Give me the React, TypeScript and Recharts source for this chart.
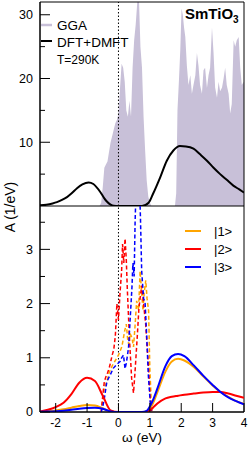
import React from "react";
import { ComposedChart, Line, Area, XAxis, YAxis, ReferenceLine, ReferenceArea } from "recharts";

// top panel: GGA total DOS (filled) and DFT+DMFT spectral function
const ggaW = [-2.5, -0.6, -0.55, -0.5, -0.45, -0.4, -0.35, -0.3, -0.25, -0.2, -0.15, -0.1, -0.05, 0, 0.05, 0.1, 0.15, 0.2, 0.25, 0.3, 0.35, 0.4, 0.45, 0.5, 0.55, 0.6, 0.65, 0.7, 0.75, 0.8, 0.85, 0.9, 0.95, 1.0, 1.05,
  1.8, 1.84, 1.88, 1.93, 1.97, 2.01, 2.05, 2.09, 2.13, 2.18, 2.23, 2.29, 2.34, 2.39, 2.45, 2.5, 2.55, 2.6, 2.66, 2.71, 2.76, 2.82, 2.87, 2.92, 2.98, 3.03, 3.08, 3.14, 3.19, 3.24, 3.3, 3.35, 3.4, 3.45, 3.51, 3.56, 3.61, 3.67, 3.72, 3.77, 3.83, 3.88, 3.93, 3.99, 4.0];
const ggaA = [0, 0, 0.5, 3, 6, 6.5, 7, 8.5, 10, 11, 12, 13, 13.5, 14.5, 18.5, 22.3, 21.7, 19.5, 15, 14, 16.5, 14, 21.7, 26, 28.5, 32, 33, 25, 21.7, 14, 8.7, 4, 1.5, 0.5, 0,
  0, 2, 15, 20, 24.5, 31, 30, 28, 26.5, 22, 19, 20.5, 17.6, 19, 20.5, 24, 22, 19, 17.6, 21.3, 21.7, 18.5, 20.5, 21.7, 28, 24, 18.6, 17, 19.5, 18, 18.6, 20, 21.7, 19, 17.6, 14.5, 16, 26, 25, 26, 26.5, 21.7, 19, 19.5, 19];

const dmftW = [-2.5, -2.3, -2.1, -1.96, -1.8, -1.64, -1.5, -1.32, -1.15, -0.95, -0.8, -0.58, -0.45, -0.37, -0.25, -0.15, 0, 0.4, 0.75, 0.96, 1.11, 1.33, 1.54, 1.75, 1.96, 2.15, 2.39, 2.6, 2.82, 3.03, 3.24, 3.45, 3.66, 3.85, 4.0];
const dmftA = [0.1, 0.2, 0.4, 0.6, 0.95, 1.4, 1.95, 2.8, 3.4, 3.7, 3.45, 2.2, 1.2, 0.7, 0.2, 0.03, 0, 0, 0, 0.5, 2, 4.5, 7.1, 8.7, 9.4, 9.35, 9.0, 8.1, 7.1, 6.0, 5.0, 4.1, 3.2, 2.6, 2.1];

// bottom panel: DFT+DMFT orbital-resolved spectra (solid)
const orbW = [-2.5, -2.25, -2, -1.75, -1.5, -1.25, -1, -0.75, -0.5, -0.25, 0, 0.25, 0.5, 0.75, 0.9, 1, 1.1, 1.25, 1.5, 1.7, 1.9, 2.1, 2.4, 2.7, 3, 3.25, 3.5, 3.75, 4];
const orb1 = [0.005, 0.015, 0.03, 0.05, 0.08, 0.11, 0.13, 0.12, 0.07, 0.01, 0, 0, 0, 0, 0.01, 0.06, 0.16, 0.38, 0.75, 0.93, 0.98, 0.95, 0.83, 0.66, 0.49, 0.37, 0.28, 0.2, 0.15];
const orb2 = [0.01, 0.04, 0.09, 0.17, 0.33, 0.54, 0.63, 0.57, 0.3, 0.03, 0, 0, 0, 0, 0.005, 0.03, 0.08, 0.16, 0.25, 0.28, 0.3, 0.32, 0.34, 0.36, 0.37, 0.37, 0.34, 0.3, 0.26];
const orb3 = [0.003, 0.008, 0.015, 0.025, 0.04, 0.06, 0.075, 0.08, 0.06, 0.01, 0, 0, 0, 0, 0.02, 0.1, 0.22, 0.45, 0.85, 1.03, 1.07, 1.03, 0.86, 0.67, 0.5, 0.37, 0.27, 0.2, 0.14];

// bottom panel: GGA orbital-resolved DOS (dashed)
const gga1W = [-0.55, -0.5, -0.45, -0.37, -0.3, -0.2, -0.1, -0.05, 0, 0.05, 0.11, 0.16, 0.2, 0.25, 0.3, 0.33, 0.37, 0.43, 0.48, 0.53, 0.58, 0.64, 0.69, 0.74, 0.78, 0.82, 0.87, 0.91, 0.96, 1.0, 1.06];
const gga1 = [0, 0.25, 0.45, 0.56, 0.72, 0.85, 0.95, 1.0, 1.05, 1.12, 1.21, 1.37, 1.5, 1.62, 1.3, 1.25, 1.45, 1.37, 1.2, 1.6, 2.05, 1.88, 2.6, 2.2, 1.87, 2.2, 2.43, 2.1, 1.87, 0.8, 0];
const gga2W = [-0.55, -0.5, -0.45, -0.4, -0.35, -0.3, -0.25, -0.2, -0.15, -0.1, -0.05, 0, 0.05, 0.1, 0.13, 0.17, 0.21, 0.25, 0.28, 0.35, 0.42, 0.48, 0.53, 0.6, 0.65, 0.69, 0.74, 0.8, 0.87, 0.96, 1.01, 1.06];
const gga2 = [0, 0.3, 0.56, 0.65, 0.72, 0.8, 0.92, 1.05, 1.15, 1.4, 2.0, 1.7, 2.2, 2.6, 3.1, 2.75, 3.2, 2.8, 2.3, 1.35, 0.62, 0.35, 0.76, 1.4, 1.9, 2.1, 2.33, 2.0, 1.6, 0.8, 0.25, 0];
const gga3W = [-0.55, -0.5, -0.45, -0.37, -0.25, -0.16, -0.05, 0.05, 0.1, 0.16, 0.21, 0.25, 0.32, 0.37, 0.43, 0.46, 0.5, 0.53, 0.57, 0.62, 0.66, 0.7, 0.74, 0.8, 0.85, 0.9, 0.95, 1.01, 1.06];
const gga3 = [0, 0.1, 0.25, 0.56, 0.7, 0.81, 0.88, 0.93, 1.0, 1.05, 0.8, 0.9, 1.18, 1.68, 2.3, 2.75, 2.5, 3.5, 4.3, 4.0, 4.4, 3.6, 2.6, 2.1, 2.0, 1.4, 0.7, 0.19, 0];

const xTicks = [-2, -1.5, -1, -0.5, 0, 0.5, 1, 1.5, 2, 2.5, 3, 3.5, 4];
const topTicks = [0, 5, 10, 15, 20, 25, 30];
const botTicks = [0, 0.5, 1, 1.5, 2, 2.5, 3, 3.5];

const FONT = "Liberation Sans, Arial, Helvetica, sans-serif";
const LAV = "#c8c0d8";
const C1 = "#ffa500";
const C2 = "#ff0000";
const C3 = "#0000ff";

const zip = (xs: number[], ys: number[]) => xs.map((x, i) => ({ x, y: ys[i] }));

function XTickMark(props: any) {
  const { x, y, payload, labels } = props;
  const major = Number.isInteger(payload.value);
  return (
    <g>
      <line x1={x} x2={x} y1={y} y2={y - (major ? 9 : 5)} stroke="#000" />
      {labels && major && (
        <text x={x} y={y + 15} textAnchor="middle" fontSize={12} fontFamily={FONT} fill="#000">
          {payload.value}
        </text>
      )}
    </g>
  );
}

function YTickMark(props: any) {
  const { x, y, payload, step } = props;
  const major = Math.abs(payload.value / step - Math.round(payload.value / step)) < 1e-6;
  return (
    <g>
      <line x1={x} x2={x + (major ? 10 : 5)} y1={y} y2={y} stroke="#000" />
      {major && (
        <text x={x - 7} y={y} dy="0.35em" textAnchor="end" fontSize={12.5} fontFamily={FONT} fill="#000">
          {payload.value}
        </text>
      )}
    </g>
  );
}

export default function App() {
  return (
    <div style={{ position: "absolute", left: 0, top: 0, width: 250, height: 450, background: "#fff" }}>
      <div style={{ position: "absolute", left: 0, top: 0 }}>
        <ComposedChart width={250} height={206} margin={{ top: 2, right: 6, left: 0, bottom: 0 }}>
          <XAxis type="number" dataKey="x" domain={[-2.5, 4]} allowDataOverflow ticks={xTicks} height={0}
            tickSize={0} tickMargin={0} tickLine={false} axisLine={{ stroke: "#000" }}
            tick={(p: any) => <XTickMark {...p} labels={false} />} />
          <YAxis type="number" domain={[0, 32]} allowDataOverflow ticks={topTicks} width={40}
            tickSize={0} tickMargin={0} tickLine={false} axisLine={{ stroke: "#000" }}
            tick={(p: any) => <YTickMark {...p} step={10} />} />
          <Area data={zip(ggaW, ggaA)} dataKey="y" type="linear" fill={LAV} fillOpacity={1} stroke="none" isAnimationActive={false} />
          <Line data={zip(dmftW, dmftA)} dataKey="y" type="monotone" stroke="#000" strokeWidth={2} dot={false} isAnimationActive={false} />
          <ReferenceLine x={0} stroke="#000" strokeDasharray="1.5 2" />
          <ReferenceArea x1={-2.5} x2={4} y1={0} y2={32} fill="none" stroke="#000" strokeWidth={1} />
        </ComposedChart>
      </div>
      <div style={{ position: "absolute", left: 0, top: 206 }}>
        <ComposedChart width={250} height={244} margin={{ top: 0, right: 6, left: 0, bottom: 0 }}>
          <XAxis type="number" dataKey="x" domain={[-2.5, 4]} allowDataOverflow ticks={xTicks} height={38}
            tickSize={0} tickMargin={0} tickLine={false} axisLine={{ stroke: "#000" }}
            tick={(p: any) => <XTickMark {...p} labels />} />
          <YAxis type="number" domain={[0, 3.8]} allowDataOverflow ticks={botTicks} width={40}
            tickSize={0} tickMargin={0} tickLine={false} axisLine={{ stroke: "#000" }}
            tick={(p: any) => <YTickMark {...p} step={1} />} />
          <ReferenceLine x={0} stroke="#000" strokeDasharray="1.5 2" />
          <Line data={zip(gga1W, gga1)} dataKey="y" type="linear" stroke={C1} strokeWidth={1.5} strokeDasharray="4 2.5" dot={false} isAnimationActive={false} />
          <Line data={zip(gga2W, gga2)} dataKey="y" type="linear" stroke={C2} strokeWidth={1.5} strokeDasharray="4 2.5" dot={false} isAnimationActive={false} />
          <Line data={zip(gga3W, gga3)} dataKey="y" type="linear" stroke={C3} strokeWidth={1.5} strokeDasharray="4 2.5" dot={false} isAnimationActive={false} />
          <Line data={zip(orbW, orb1)} dataKey="y" type="monotone" stroke={C1} strokeWidth={2} dot={false} isAnimationActive={false} />
          <Line data={zip(orbW, orb2)} dataKey="y" type="monotone" stroke={C2} strokeWidth={2} dot={false} isAnimationActive={false} />
          <Line data={zip(orbW, orb3)} dataKey="y" type="monotone" stroke={C3} strokeWidth={2} dot={false} isAnimationActive={false} />
          <ReferenceArea x1={-2.5} x2={4} y1={0} y2={3.8} fill="none" stroke="#000" strokeWidth={1} />
        </ComposedChart>
      </div>
      <svg width={250} height={450} style={{ position: "absolute", left: 0, top: 0, pointerEvents: "none" }} fontFamily={FONT}>
        <text transform="translate(10,207) rotate(-90)" textAnchor="middle" dy="0.35em" fontSize={14}>A (1/eV)</text>
        <text x={142} y={442} textAnchor="middle" fontSize={13.5}>ω (eV)</text>
        <line x1={41} x2={52} y1={25} y2={25} stroke={LAV} strokeWidth={2.5} />
        <text x={57} y={30} fontSize={13.5}>GGA</text>
        <line x1={41} x2={52} y1={41} y2={41} stroke="#000" strokeWidth={2} />
        <text x={57} y={46.5} fontSize={13.5}>DFT+DMFT</text>
        <text x={57} y={64} fontSize={12}>T=290K</text>
        <text x={185} y={18.5} fontSize={15} fontWeight="bold">
          SmTiO<tspan fontSize={10} dy={4}>3</tspan>
        </text>
        <line x1={185} x2={201} y1={231} y2={231} stroke={C1} strokeWidth={2} />
        <text x={214} y={235.5} fontSize={13}>|1&gt;</text>
        <line x1={185} x2={201} y1={249} y2={249} stroke={C2} strokeWidth={2} />
        <text x={214} y={253.5} fontSize={13}>|2&gt;</text>
        <line x1={185} x2={201} y1={267} y2={267} stroke={C3} strokeWidth={2} />
        <text x={214} y={271.5} fontSize={13}>|3&gt;</text>
      </svg>
    </div>
  );
}
